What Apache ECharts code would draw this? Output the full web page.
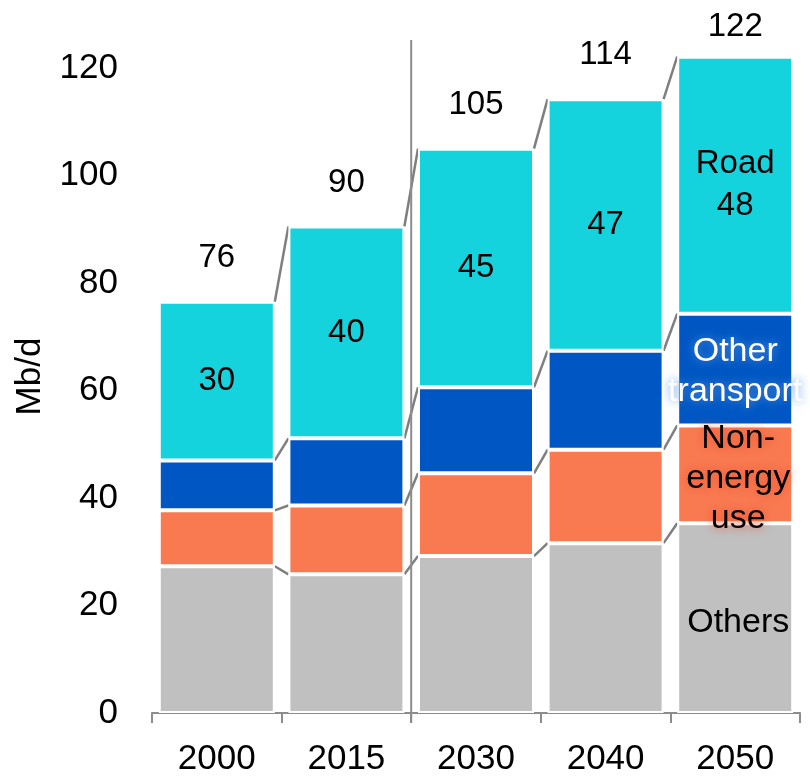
<!DOCTYPE html>
<html>
<head>
<meta charset="utf-8">
<script src="https://cdn.jsdelivr.net/npm/echarts@6/dist/echarts.min.js"></script>
<style>html,body{margin:0;padding:0;background:#fff;}#c{width:810px;height:777px;}</style>
</head>
<body>
<div id="c"></div>
<script>
// ---- data ----
const years = ['2000', '2015', '2030', '2040', '2050'];
const others = [27.3, 25.8, 29.2, 31.6, 35.3];
const nonEnergy = [10.4, 12.8, 15.4, 17.4, 18.2];
const otherTransport = [9.3, 12.5, 16.0, 18.4, 20.8];
const road = [29.5, 39.4, 44.4, 46.8, 47.8];
const roadLabels = ['30', '40', '45', '47', '48'];
const totalLabels = ['76', '90', '105', '114', '122'];
const yTicks = [0, 20, 40, 60, 80, 100, 120];
const seriesNames = ['Others', 'Non-energy use', 'Other transport', 'Road'];

// ---- styling ----
const FONT = "'Liberation Sans', Arial, sans-serif";
const COLORS = ['#c0c0c0', '#f97a51', '#0057c3', '#14d3dd'];
const BAR_W = 116;

const layers = [others, nonEnergy, otherTransport, road];
const cum = years.map((_, i) => {
  let s = 0;
  return layers.map(l => (s += l[i]));
});
const totals = cum.map(c => c[c.length - 1]);

const chart = echarts.init(document.getElementById('c'), null, {renderer: 'canvas'});

function barSeries(idx, data, labelFn) {
  return {
    type: 'bar',
    name: seriesNames[idx],
    stack: 'total',
    barWidth: BAR_W,
    clip: false,
    animation: false,
    itemStyle: {color: COLORS[idx], borderColor: '#ffffff', borderWidth: 2},
    data: data.map((v, i) => {
      const item = {value: v};
      const lab = labelFn ? labelFn(i) : null;
      item.label = lab || {show: false};
      return item;
    })
  };
}

const last = years.length - 1;

const option = {
  animation: false,
  backgroundColor: '#ffffff',
  grid: {left: 152, right: 10, top: 68, bottom: 63, containLabel: false},
  xAxis: {
    type: 'category',
    data: years,
    axisLine: {lineStyle: {color: '#8c8c8c', width: 2}},
    axisTick: {show: true, length: 10, lineStyle: {color: '#8c8c8c', width: 2}},
    axisLabel: {color: '#000', fontSize: 35, fontFamily: FONT, margin: 29}
  },
  yAxis: {
    type: 'value',
    min: yTicks[0],
    max: yTicks[yTicks.length - 1],
    interval: yTicks[1] - yTicks[0],
    name: 'Mb/d',
    nameLocation: 'middle',
    nameGap: 104,
    nameTextStyle: {color: '#000', fontSize: 35, fontFamily: FONT, padding: [0, 0, 0, 28]},
    axisLine: {show: false},
    axisTick: {show: false},
    splitLine: {show: false},
    axisLabel: {color: '#000', fontSize: 35, fontFamily: FONT, margin: 34}
  },
  series: [
    barSeries(0, others, i => i === last ? {
      show: true, position: 'inside', formatter: seriesNames[0],
      color: '#000', fontSize: 34, fontFamily: FONT, offset: [3, 4]
    } : null),
    barSeries(1, nonEnergy, i => i === last ? {
      show: true, position: 'inside', formatter: 'Non-\nenergy\nuse',
      color: '#000', fontSize: 34, fontFamily: FONT, lineHeight: 40, offset: [3, 4],
      textShadowColor: 'rgba(235,80,50,0.95)', textShadowBlur: 10
    } : null),
    barSeries(2, otherTransport, i => i === last ? {
      show: true, position: 'inside', formatter: 'Other\ntransport',
      color: '#fff', fontSize: 34, fontFamily: FONT, lineHeight: 40, offset: [0, 2],
      textShadowColor: 'rgba(90,150,230,0.95)', textShadowBlur: 10
    } : null),
    barSeries(3, road, i => ({
      show: true, position: 'inside',
      formatter: i === last ? 'Road\n' + roadLabels[i] : roadLabels[i],
      color: '#000', fontSize: 33, fontFamily: FONT, lineHeight: 42
    })),
    {
      // connector lines between bar segment tops
      type: 'custom',
      animation: false,
      silent: true,
      clip: false,
      data: years.slice(0, -1).map((_, i) => [i]),
      encode: {x: 0},
      renderItem: function (params, api) {
        const i = api.value(0);
        const children = [];
        for (let k = 0; k < layers.length; k++) {
          const p1 = api.coord([i, cum[i][k]]);
          const p2 = api.coord([i + 1, cum[i + 1][k]]);
          children.push({
            type: 'line',
            shape: {x1: p1[0] + BAR_W / 2, y1: p1[1], x2: p2[0] - BAR_W / 2, y2: p2[1]},
            style: {stroke: '#7f7f7f', lineWidth: 2.5}
          });
        }
        return {type: 'group', children: children};
      }
    },
    {
      // separator between historical and projected years
      type: 'custom',
      animation: false,
      silent: true,
      clip: false,
      data: [[1]],
      encode: {x: 0},
      renderItem: function (params, api) {
        const i = api.value(0);
        const base = api.coord([i, 0]);
        const bw = api.size([1, 0])[0];
        const x = base[0] + bw / 2;
        const top = params.coordSys.y - 28;
        return {
          type: 'line',
          shape: {x1: x, y1: base[1] + 10, x2: x, y2: top},
          style: {stroke: '#8c8c8c', lineWidth: 2}
        };
      }
    },
    {
      // totals above bars
      type: 'custom',
      animation: false,
      silent: true,
      clip: false,
      data: totals.map((t, i) => [i, t]),
      encode: {x: 0, y: 1},
      renderItem: function (params, api) {
        const i = api.value(0);
        const p = api.coord([i, api.value(1)]);
        const lift = i === last ? 30 : 44;
        return {
          type: 'text',
          x: p[0],
          y: p[1] - lift,
          style: {
            text: totalLabels[i], fill: '#000', fontSize: 33, fontFamily: FONT,
            align: 'center', verticalAlign: 'middle'
          }
        };
      }
    }
  ]
};
chart.setOption(option);
</script>
</body>
</html>
